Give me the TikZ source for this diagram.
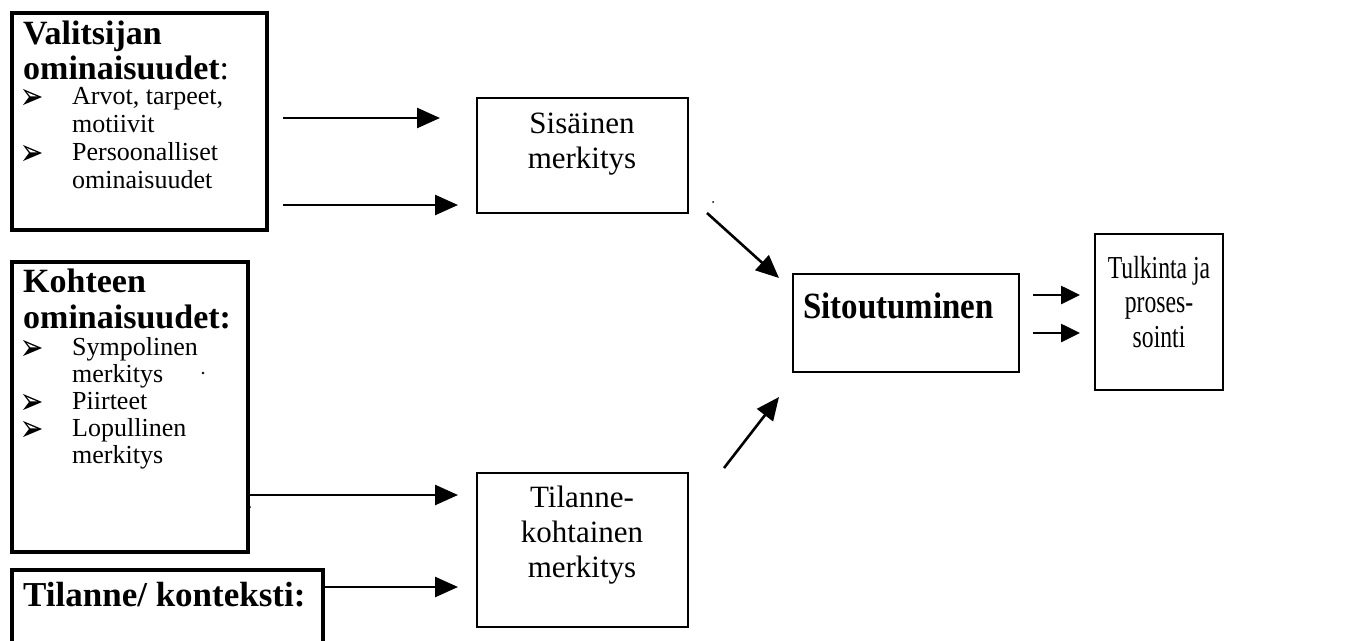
\documentclass[tikz,border=0pt]{standalone}
\usepackage{fontspec}
\setmainfont{Liberation Serif}
\newfontfamily\narrowserif[FakeStretch=0.74]{Liberation Serif}
\newfontfamily\tallbold[FakeStretch=0.89]{Liberation Serif Bold}
\usetikzlibrary{arrows.meta,calc}

\begin{document}
\begin{tikzpicture}[x=1pt,y=-1pt,
  frame/.style={draw, line width=4pt, inner sep=0pt, outer sep=0pt, anchor=north west},
  thinbox/.style={draw, line width=2pt, inner sep=0pt, outer sep=0pt, anchor=north west},
  head/.style={inner sep=0pt, anchor=base west, font=\fontsize{34}{37}\selectfont\bfseries},
  item/.style={inner sep=0pt, anchor=base west, font=\fontsize{26}{29}\selectfont},
  mid/.style={inner sep=0pt, anchor=base, font=\fontsize{31}{35}\selectfont},
  narrow/.style={inner sep=0pt, anchor=base, font=\narrowserif\fontsize{32}{35}\selectfont},
  arr/.style={line width=2.6pt, -{Triangle[length=23pt,width=20pt]}},
  shortarr/.style={line width=2.6pt, -{Triangle[length=19pt,width=18pt]}},
  % list bullet: a dark arrowhead with a light sliver in its upper half
  wbullet/.pic={
    \fill (19,-7) -- (0,-15) -- (6,-7) -- (0,1) -- cycle;
    \fill[white] (14,-7.6) -- (4,-11.8) -- (7.4,-7.6) -- cycle;
  },
  ]
\useasboundingbox (0,0) rectangle (1372,640);
\clip (0,0) rectangle (1372,640);

% left input boxes
\node[frame, minimum width=255pt, minimum height=217pt] (b1) at (12,13) {};
\node[frame, minimum width=236pt, minimum height=290pt] (b2) at (12,262) {};
\node[frame, minimum width=311pt, minimum height=140pt] (b3) at (12,570) {};

% middle and right boxes
\node[thinbox, minimum width=211pt, minimum height=115pt] (sis) at (477,98) {};
\node[thinbox, minimum width=211pt, minimum height=154pt] (til) at (477,473) {};
\node[thinbox, minimum width=226pt, minimum height=98pt] (sit) at (793,274) {};
\node[thinbox, minimum width=128pt, minimum height=156pt] (tul) at (1095,234) {};

% Valitsijan ominaisuudet
\node[head] (v1) at (23,44) {Valitsijan};
\node[head] (v2) at (23,79) {ominaisuudet\textmd{:}};
\pic at (23,104) {wbullet};
\node[item] (vi1) at (72,104) {Arvot, tarpeet,};
\node[item] (vi2) at (72,132) {motiivit};
\pic at (23,160) {wbullet};
\node[item] (vi3) at (72,160) {Persoonalliset};
\node[item] (vi4) at (72,188) {ominaisuudet};

% Kohteen ominaisuudet
\node[head] (k1) at (23,292) {Kohteen};
\node[head] (k2) at (23,328) {ominaisuudet:};
\pic at (23,355) {wbullet};
\node[item] (ki1) at (72,355) {Sympolinen};
\node[item] (ki2) at (72,382) {merkitys};
\pic at (23,409) {wbullet};
\node[item] (ki3) at (72,409) {Piirteet};
\pic at (23,436) {wbullet};
\node[item] (ki4) at (72,436) {Lopullinen};
\node[item] (ki5) at (72,463) {merkitys};

% Tilanne / konteksti
\node[head, font=\fontsize{35}{38}\selectfont\bfseries] (t1) at (23,606) {Tilanne/ konteksti:};

% middle texts
\node[mid] (s1) at (582,133) {Sisäinen};
\node[mid] (s2) at (582,168) {merkitys};
\node[mid] (m1) at (582,507) {Tilanne-};
\node[mid] (m2) at (582,542) {kohtainen};
\node[mid] (m3) at (582,577) {merkitys};

\node[inner sep=0pt, anchor=base west, font=\tallbold\fontsize{37}{40}\selectfont] (st) at (803,318) {Sitoutuminen};

\node[narrow] (u1) at (1159,278) {Tulkinta ja};
\node[narrow] (u2) at (1159,312) {proses-};
\node[narrow] (u3) at (1159,347) {sointi};

% connectors
\draw[arr] ($(b1.north east)+(16,105)$) -- ($(sis.north west)+(-37,20)$);
\draw[arr] ($(b1.north east)+(16,192)$) -- ($(sis.north west)+(-19,107)$);
\draw[arr] ($(b2.north east)+(0,233)$) -- ($(til.north west)+(-19,22)$);
\draw[arr] ($(b3.north east)+(0,17)$) -- ($(til.north west)+(-19,114)$);
\draw[arr] ($(sis.south east)+(19,0)$) -- ($(sit.north west)+(-14,4)$);
\draw[arr] ($(til.north east)+(36,-5)$) -- ($(sit.south west)+(-14,25)$);
\draw[shortarr] ($(sit.north east)+(14,21)$) -- ($(tul.north west)+(-15,61)$);
\draw[shortarr] ($(sit.north east)+(14,59)$) -- ($(tul.north west)+(-15,99)$);

% small specks
\fill (203,373) circle (1.3pt);
\fill (250,507) circle (1pt);
\fill (713,202) circle (1pt);
\end{tikzpicture}
\end{document}
